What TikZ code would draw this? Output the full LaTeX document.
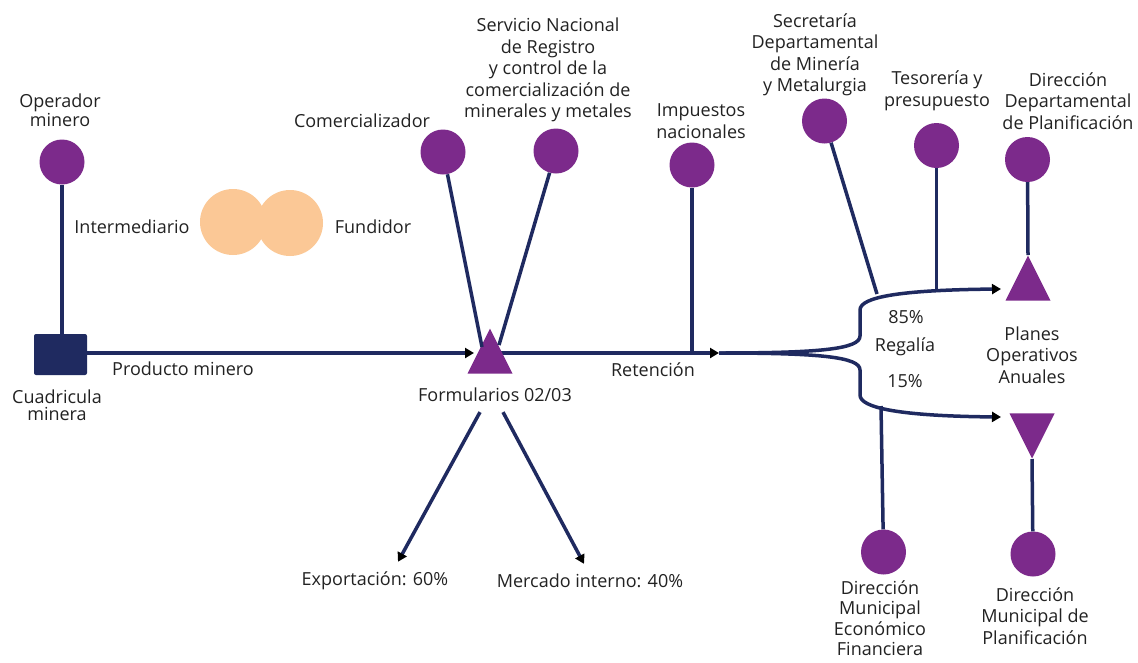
\documentclass[tikz,border=0pt]{standalone}
\usepackage{fontspec}
\setmainfont{Open Sans}
\usetikzlibrary{arrows.meta,shapes.geometric,calc}
\definecolor{pur}{RGB}{124,42,139}
\definecolor{navy}{RGB}{31,42,96}
\definecolor{peach}{RGB}{251,200,150}
\definecolor{txt}{RGB}{34,34,34}
\pgfdeclarelayer{bg}
\pgfsetlayers{bg,main}
\tikzset{
  pc/.style={circle,fill=pur,minimum size=45pt,inner sep=0pt},
  oc/.style={circle,fill=peach,minimum size=66pt,inner sep=0pt},
  tri/.style={isosceles triangle,isosceles triangle stretches,fill=pur,minimum width=45pt,minimum height=45pt,inner sep=0pt,anchor=apex},
  lbl/.style={text=txt,align=center,inner sep=0pt,font=\fontsize{18}{21.5}\selectfont},
  tight/.style={lbl,font=\fontsize{18}{17.5}\selectfont},
  ln/.style={draw=navy,line width=3.5pt},
  arr/.style={ln,-{Triangle[length=9pt,width=10pt,fill=black,color=black]}},
}
\begin{document}
\begin{tikzpicture}[x=1pt,y=-1pt]
\begin{pgfonlayer}{bg}
\path[use as bounding box,fill=white] (0,0) rectangle (1138,662);
\end{pgfonlayer}
% nodes
\node[pc] (op) at (62,162) {};
\node[fill=navy,rounded corners=2pt,minimum width=53pt,minimum height=41pt,inner sep=0pt] (sq) at (60.5,354.5) {};
\node[oc] (oc1) at (233,222) {};
\node[oc] (oc2) at (290,223) {};
\node[pc] (com) at (443,152) {};
\node[pc] (srv) at (556,151) {};
\node[pc] (imp) at (692,165) {};
\node[pc] (sec) at (824.5,121) {};
\node[pc] (tes) at (936.5,145.5) {};
\node[pc] (ddp) at (1027.5,159.5) {};
\node[pc] (dme) at (883.5,552) {};
\node[pc] (dmp) at (1033,554) {};
\node[tri,shape border rotate=90] (t1) at (490,328) {};
\node[tri,shape border rotate=90] (t2) at (1028,255) {};
\node[tri,shape border rotate=270] (t3) at (1032,459) {};
% labels
\node[tight] (opl) at (60,110) {Operador\\minero};
\node[tight] (sql) at (57,405) {Cuadricula\\minera};
\node[lbl] (prl) at (183,369) {Producto minero};
\node[lbl] (inl) at (132,227) {Intermediario};
\node[lbl] (ful) at (373,227) {Fundidor};
\node[lbl] (coml) at (362,121) {Comercializador};
\node[lbl] (srvl) at (548,70) {Servicio Nacional\\de Registro\\y control de la\\comercialización de\\minerales y metales};
\node[lbl] (impl) at (701,121) {Impuestos\\nacionales};
\node[lbl] (secl) at (815,55) {Secretaría\\Departamental\\de Minería\\y Metalurgia};
\node[lbl] (tesl) at (937,91) {Tesorería y\\presupuesto};
\node[lbl] (ddpl) at (1068,101) {Dirección\\Departamental\\de Planificación};
\node[lbl] (pla) at (1032,355) {Planes\\Operativos\\Anuales};
\node[lbl] (p85) at (906,317) {85\%};
\node[lbl] (reg) at (905,347) {Regalía};
\node[lbl] (p15) at (905,381) {15\%};
\node[lbl] (retl) at (653,370) {Retención};
\node[lbl] (form) at (495,395) {Formularios 02/03};
\node[lbl] (exp) at (375,581) {Exportación: 60\%};
\node[lbl] (mer) at (590,581) {Mercado interno: 40\%};
\node[lbl,font=\fontsize{18}{20.5}\selectfont] (dmel) at (880,618) {Dirección\\Municipal\\Económico\\Financiera};
\node[lbl] (dmpl) at (1035,616) {Dirección\\Municipal de\\Planificación};
% free ends
\coordinate (tin) at (474,353);
\coordinate (ret) at (719,353);
\coordinate (pa) at (1001,289);
\coordinate (pb) at (1001,417);
\coordinate (secend) at (877,294);
\coordinate (tesend) at (936.5,291);
\coordinate (dmeend) at (881,406);
% connectors
\begin{pgfonlayer}{bg}
\draw[arr] (t1.apex |- ret) -- (ret);
\end{pgfonlayer}
\draw[ln] (op) -- (op |- sq.north);
\draw[arr] (sq.east |- tin) -- (tin);
\draw[ln] (com) -- ($(t1.apex)+(-8,19)$);
\draw[ln] (srv) -- ($(t1.apex)+(9,17)$);
\draw[ln] (imp) -- (imp |- ret);
\draw[arr] ($(form.south)+(-15,10)$) -- ($(exp.north)+(23,-10)$);
\draw[arr] ($(form.south)+(8,10)$) -- ($(mer.north)+(-6,-10)$);
\draw[arr] (ret) .. controls (820,353) and (860,349) .. (860,336) -- (860,310) .. controls (860,297) and (900,290) .. (pa);
\draw[arr] (ret) .. controls (820,353) and (860,357) .. (860,370) -- (860,395) .. controls (860,408) and (900,416) .. (pb);
\draw[ln] (sec) -- (secend);
\draw[ln] (tes) -- (tesend);
\draw[ln] (ddp) -- (t2.apex);
\draw[ln] (t3.apex) -- (dmp);
\draw[ln] (dme) -- (dmeend);
\end{tikzpicture}
\end{document}
